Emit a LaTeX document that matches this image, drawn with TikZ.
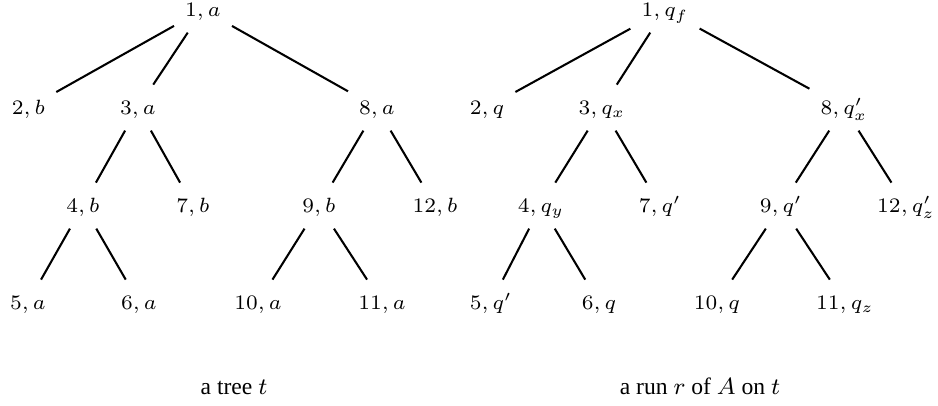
\documentclass[tikz,border=0pt]{standalone}
\usepackage{fontspec}
\newfontfamily\capfont{Liberation Serif}
\begin{document}
\begin{tikzpicture}[x=0.339pt,y=-0.339pt,
  lab/.style={font=\fontsize{7.2}{8.6}\selectfont, inner sep=3.6pt, text height=6.5pt, text depth=1.5pt, anchor=base},
  captext/.style={font=\capfont\fontsize{8}{9.6}\selectfont, inner sep=0pt, anchor=base},
  treeedge/.style={line width=0.7pt}]
\useasboundingbox (0,0) rectangle (938,406);
% left tree
\node[lab] (n1) at (203,17) {$1,a$};
\node[lab] (n2) at (28.5,115) {$2,b$};
\node[lab] (n3) at (138,115) {$3,a$};
\node[lab] (n8) at (377,115) {$8,a$};
\node[lab] (n4) at (83,213) {$4,b$};
\node[lab] (n7) at (193,213) {$7,b$};
\node[lab] (n9) at (319,213) {$9,b$};
\node[lab] (n12) at (435,213) {$12,b$};
\node[lab] (n5) at (28,310) {$5,a$};
\node[lab] (n6) at (139,310) {$6,a$};
\node[lab] (n10) at (258,310) {$10,a$};
\node[lab] (n11) at (382,310) {$11,a$};
\foreach \a/\b in {n1/n2,n1/n3,n1/n8,n3/n4,n3/n7,n8/n9,n8/n12,n4/n5,n4/n6,n9/n10,n9/n11}
  \draw[treeedge] (\a) -- (\b);
% right tree
\node[lab] (m1) at (665,17) {$1,q_f$};
\node[lab] (m2) at (487,115) {$2,q$};
\node[lab] (m3) at (602,115) {$3,q_x$};
\node[lab] (m8) at (844,115) {$8,q'_x$};
\node[lab] (m4) at (541,213) {$4,q_y$};
\node[lab] (m7) at (660,213) {$7,q'$};
\node[lab] (m9) at (781,213) {$9,q'$};
\node[lab] (m12) at (906,213) {$12,q'_z$};
\node[lab] (m5) at (491,310) {$5,q'$};
\node[lab] (m6) at (599,310) {$6,q$};
\node[lab] (m10) at (717,310) {$10,q$};
\node[lab] (m11) at (845,310) {$11,q_z$};
\foreach \a/\b in {m1/m2,m1/m3,m1/m8,m3/m4,m3/m7,m8/m9,m8/m12,m4/m5,m4/m6,m9/m10,m9/m11}
  \draw[treeedge] (\a) -- (\b);
% captions
\node[captext] (c1) at (234,395) {a tree $t$};
\node[captext] (c2) at (700,395) {a run $r$ of $A$ on $t$};
\end{tikzpicture}
\end{document}
